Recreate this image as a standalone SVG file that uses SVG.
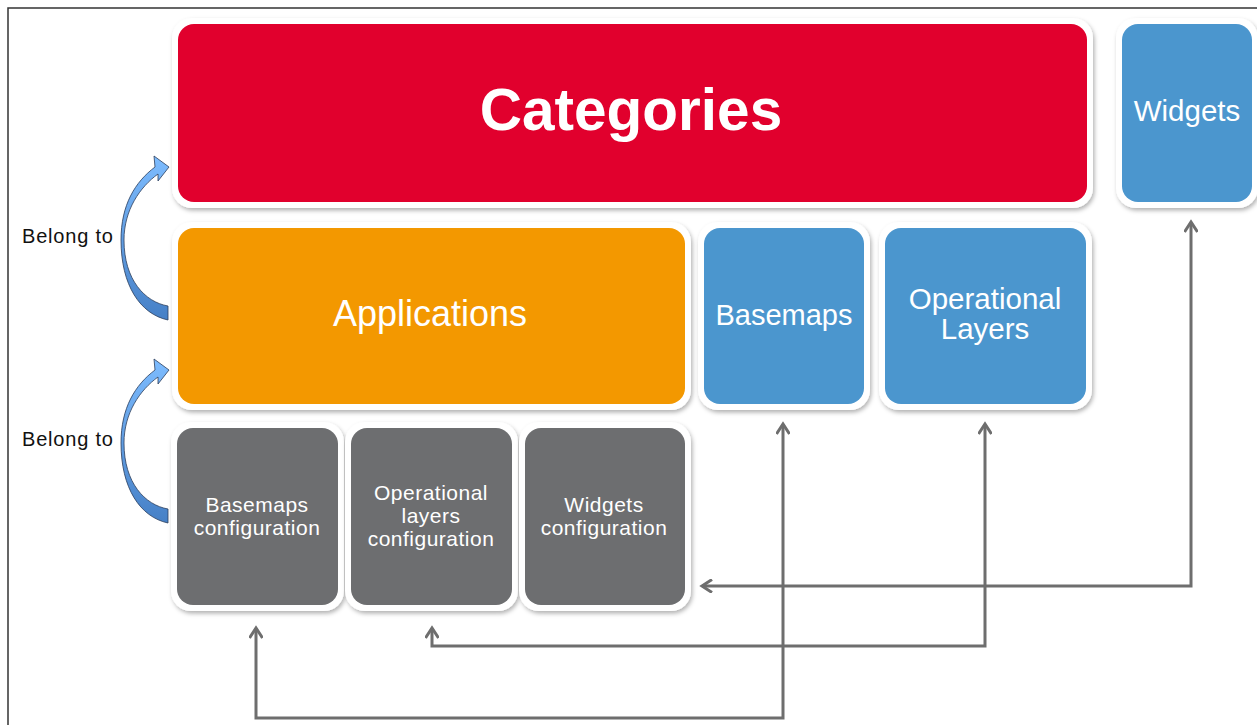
<svg xmlns="http://www.w3.org/2000/svg" width="1257" height="725" viewBox="0 0 1257 725">
<defs>
<filter id="sh" x="-10%" y="-10%" width="120%" height="130%">
<feDropShadow dx="1.5" dy="2.5" stdDeviation="2" flood-color="#000" flood-opacity="0.3"/>
</filter>
<linearGradient id="bg" x1="0" y1="0" x2="0" y2="1">
<stop offset="0" stop-color="#7dbcff"/>
<stop offset="1" stop-color="#4680c6"/>
</linearGradient>
<marker id="ah" viewBox="0 0 14 14" refX="11" refY="7" markerWidth="14" markerHeight="14" markerUnits="userSpaceOnUse" orient="auto-start-reverse">
<path d="M1,0.5 L11,7 L1,13.5" fill="none" stroke="#6e6e6e" stroke-width="3"/>
</marker>
<style>
.frame{fill:#fff;filter:url(#sh)}
.red{fill:#E1002D}
.org{fill:#F39800}
.blu{fill:#4B96CE}
.gry{fill:#6D6E70}
.t{font-family:"Liberation Sans",Arial,sans-serif;fill:#fff;text-anchor:middle}
.s{font-size:21px;letter-spacing:0.5px}
.lbl{font-family:"Liberation Sans",Arial,sans-serif;fill:#111;font-size:20px;letter-spacing:0.8px}
.con{fill:none;stroke:#6e6e6e;stroke-width:3;stroke-linejoin:miter}
.curve{fill:url(#bg);stroke:#2b3d5c;stroke-width:0.8}
</style>
</defs>
<rect x="0" y="0" width="1257" height="725" fill="#fff"/>
<path d="M8,725 L8,8 L1257,8" fill="none" stroke="#333" stroke-width="1.5"/>

<g id="categories">
<rect class="frame" x="172" y="18" width="921" height="190" rx="20"/>
<rect class="red" x="178" y="24" width="909" height="178" rx="16"/>
<text class="t" x="631" y="130" font-size="58.5" font-weight="bold">Categories</text>
</g>
<g id="widgets">
<rect class="frame" x="1116" y="18" width="142" height="190" rx="20"/>
<rect class="blu" x="1122" y="24" width="130" height="178" rx="16"/>
<text class="t" x="1187" y="121" font-size="29.5">Widgets</text>
</g>
<g id="applications">
<rect class="frame" x="172" y="222" width="519" height="188" rx="20"/>
<rect class="org" x="178" y="228" width="507" height="176" rx="16"/>
<text class="t" x="430" y="326" font-size="36">Applications</text>
</g>
<g id="basemaps">
<rect class="frame" x="698" y="222" width="172" height="188" rx="20"/>
<rect class="blu" x="704" y="228" width="160" height="176" rx="16"/>
<text class="t" x="784" y="325" font-size="29">Basemaps</text>
</g>
<g id="operational-layers">
<rect class="frame" x="879" y="222" width="213" height="188" rx="20"/>
<rect class="blu" x="885" y="228" width="201" height="176" rx="16"/>
<text class="t" x="985" y="309" font-size="29.5">Operational</text>
<text class="t" x="985" y="339" font-size="29.5">Layers</text>
</g>
<g id="basemaps-configuration">
<rect class="frame" x="171" y="422" width="173" height="189" rx="20"/>
<rect class="gry" x="177" y="428" width="161" height="177" rx="16"/>
<text class="t s" x="257" y="512">Basemaps</text>
<text class="t s" x="257" y="535">configuration</text>
</g>
<g id="operational-layers-configuration">
<rect class="frame" x="345" y="422" width="173" height="189" rx="20"/>
<rect class="gry" x="351" y="428" width="161" height="177" rx="16"/>
<text class="t s" x="431" y="500">Operational</text>
<text class="t s" x="431" y="523">layers</text>
<text class="t s" x="431" y="546">configuration</text>
</g>
<g id="widgets-configuration">
<rect class="frame" x="519" y="422" width="172" height="189" rx="20"/>
<rect class="gry" x="525" y="428" width="160" height="177" rx="16"/>
<text class="t s" x="604" y="512">Widgets</text>
<text class="t s" x="604" y="535">configuration</text>
</g>

<g id="belong-1">
<path class="curve" d="M168,320 C140,314 121,285 121,240 C121,205 135,182 155,167 L154,156 L169,167 L158,181 L158,174 C140,187 124,210 124,240 C124,280 145,302 168,306 Z"/>
<text class="lbl" x="22" y="243">Belong to</text>
</g>
<g id="belong-2">
<path class="curve" transform="translate(0,203)" d="M168,320 C140,314 121,285 121,240 C121,205 135,182 155,167 L154,156 L169,167 L158,181 L158,174 C140,187 124,210 124,240 C124,280 145,302 168,306 Z"/>
<text class="lbl" x="22" y="446">Belong to</text>
</g>

<g id="connectors">
<path class="con" d="M1191,222 L1191,586 L702,586" marker-start="url(#ah)" marker-end="url(#ah)"/>
<path class="con" d="M783,424 L783,718 L256,718 L256,628" marker-start="url(#ah)" marker-end="url(#ah)"/>
<path class="con" d="M985,424 L985,646 L432,646 L432,628" marker-start="url(#ah)" marker-end="url(#ah)"/>
</g>
</svg>
